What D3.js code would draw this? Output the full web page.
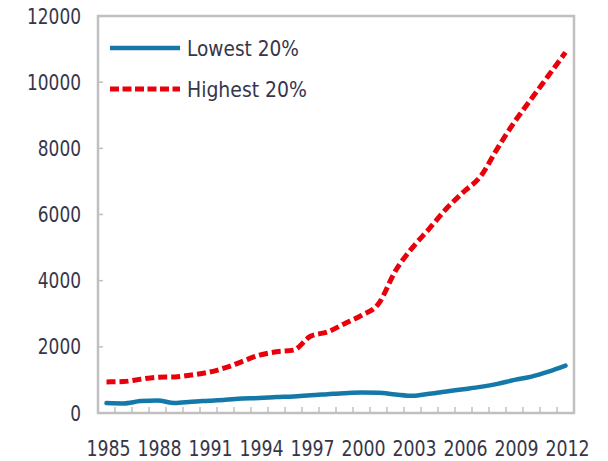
<!DOCTYPE html>
<html>
<head>
<script src="https://d3js.org/d3.v7.min.js"></script>
<style>
  body { margin: 0; background: #fff; }
  text { font-family: "DejaVu Sans", sans-serif; fill: #36364a; }
</style>
</head>
<body>
<script>
// data
const years = d3.range(1985, 2013);
const lowest = [300, 290, 360, 380, 300, 340, 370, 400, 440, 450, 480, 500, 540, 570,
                600, 620, 610, 560, 520, 580, 650, 720, 790, 880, 1000, 1100, 1250, 1430];
const highest = [940, 950, 1020, 1080, 1090, 1150, 1230, 1370, 1560, 1750, 1850, 1900, 2320, 2450,
                 2700, 2950, 3300, 4300, 5000, 5580, 6180, 6680, 7150, 8000, 8800, 9500, 10200, 10900];
const yTicks = [0, 2000, 4000, 6000, 8000, 10000, 12000];
const xLabels = [1985, 1988, 1991, 1994, 1997, 2000, 2003, 2006, 2009, 2012];
const seriesNames = ['Lowest 20%', 'Highest 20%'];

const w = 608, h = 461;
const padL = 98, padR = 574, padT = 16, padB = 413;
const digitW = 10.8; // the source font is narrow

const svg = d3.select('body').append('svg')
  .attr('width', w).attr('height', h);

const x = d3.scaleBand().domain(years).range([padL, padR]);
const y = d3.scaleLinear().domain([0, 12000]).range([padB, padT]);

// frame
svg.append('rect')
  .attr('x', padL).attr('y', padT)
  .attr('width', padR - padL).attr('height', padB - padT)
  .attr('fill', 'none').attr('stroke', '#c0c0c0').attr('stroke-width', 2.5);

// x ticks between categories, pointing up
svg.selectAll('.xt').data(years.slice(1)).enter().append('line')
  .attr('x1', d => x(d)).attr('x2', d => x(d))
  .attr('y1', padB).attr('y2', padB - 6)
  .attr('stroke', '#c0c0c0').attr('stroke-width', 1.5);

// y ticks
svg.selectAll('.yt').data(yTicks.slice(1, -1)).enter().append('line')
  .attr('x1', padL).attr('x2', padL + 5)
  .attr('y1', d => y(d)).attr('y2', d => y(d))
  .attr('stroke', '#c0c0c0').attr('stroke-width', 1.5);

svg.selectAll('.yl').data(yTicks).enter().append('text')
  .attr('x', 81).attr('y', d => y(d))
  .attr('dy', '0.36em')
  .attr('text-anchor', 'end')
  .attr('textLength', d => String(d).length * digitW)
  .attr('lengthAdjust', 'spacingAndGlyphs')
  .style('font-size', '21px')
  .text(d => d);

svg.selectAll('.xl').data(xLabels).enter().append('text')
  .attr('x', d => x(d) + x.bandwidth() / 2 + 2)
  .attr('y', 456)
  .attr('text-anchor', 'middle')
  .attr('textLength', 4 * digitW + 1)
  .attr('lengthAdjust', 'spacingAndGlyphs')
  .style('font-size', '22px')
  .text(d => d);

const line = d3.line()
  .x((d, i) => x(years[i]) + x.bandwidth() / 2)
  .y(d => y(d))
  .curve(d3.curveMonotoneX);

svg.append('path').datum(highest)
  .attr('d', line)
  .attr('fill', 'none').attr('stroke', '#e8000b')
  .attr('stroke-width', 5).attr('stroke-dasharray', '9,4');

svg.append('path').datum(lowest)
  .attr('d', line)
  .attr('fill', 'none').attr('stroke', '#1479a8')
  .attr('stroke-width', 4.5).attr('stroke-linecap', 'round');

// legend
const leg = svg.append('g');
leg.append('line').attr('x1', 110).attr('x2', 180).attr('y1', 48).attr('y2', 48)
  .attr('stroke', '#1479a8').attr('stroke-width', 4.5);
leg.append('line').attr('x1', 110).attr('x2', 180).attr('y1', 89).attr('y2', 89)
  .attr('stroke', '#e8000b').attr('stroke-width', 5).attr('stroke-dasharray', '9,3.5');
leg.selectAll('text').data(seriesNames).enter().append('text')
  .attr('x', 187).attr('y', (d, i) => 48 + i * 41)
  .attr('dy', '0.36em')
  .attr('textLength', (d, i) => [112, 120][i])
  .attr('lengthAdjust', 'spacingAndGlyphs')
  .style('font-size', '21px')
  .text(d => d);
</script>
</body>
</html>
